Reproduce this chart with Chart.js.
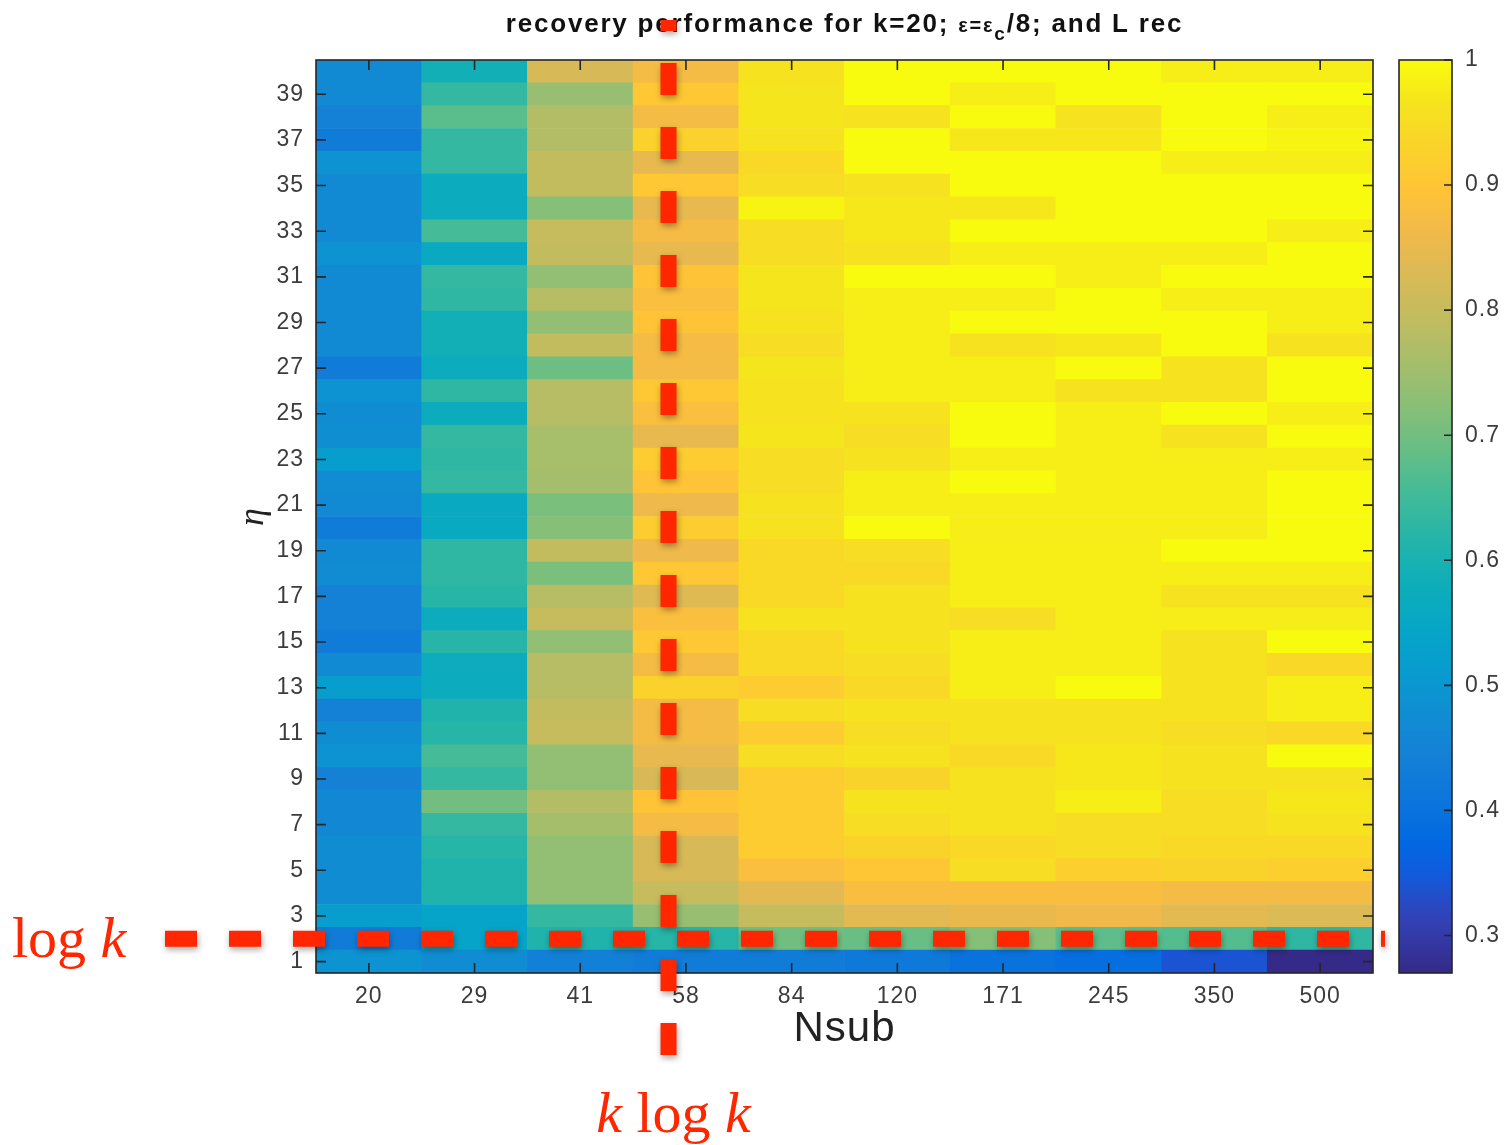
<!DOCTYPE html>
<html>
<head>
<meta charset="utf-8">
<script src="https://cdn.jsdelivr.net/npm/chart.js@4.4.1/dist/chart.umd.min.js"></script>
<style>
  html, body { margin: 0; padding: 0; background: #fff; }
  canvas { display: block; }
</style>
</head>
<body>
<canvas id="heatmap" width="1505" height="1145"></canvas>
<script>
// categories (Nsub) and rows (eta)
const nsub = ['20', '29', '41', '58', '84', '120', '171', '245', '350', '500'];
const eta = [1, 2, 3, 4, 5, 6, 7, 8, 9, 10, 11, 12, 13, 14, 15, 16, 17, 18, 19, 20,
             21, 22, 23, 24, 25, 26, 27, 28, 29, 30, 31, 32, 33, 34, 35, 36, 37, 38, 39, 40];
const etaTicks = [1, 3, 5, 7, 9, 11, 13, 15, 17, 19, 21, 23, 25, 27, 29, 31, 33, 35, 37, 39];
const cbTicks = [0.3, 0.4, 0.5, 0.6, 0.7, 0.8, 0.9, 1];
const cbMin = 0.27;
const cbMax = 1.0;

// recovery performance per Nsub column, eta = 1 .. 40
const rec20  = [0.49, 0.43, 0.52, 0.475, 0.475, 0.475, 0.46, 0.46, 0.445, 0.49,
                0.475, 0.445, 0.52, 0.467, 0.43, 0.445, 0.445, 0.475, 0.467, 0.43,
                0.467, 0.475, 0.52, 0.48, 0.475, 0.49, 0.43, 0.467, 0.467, 0.467,
                0.467, 0.49, 0.467, 0.467, 0.467, 0.49, 0.43, 0.445, 0.467, 0.467];
const rec29  = [0.475, 0.54, 0.54, 0.61, 0.61, 0.62, 0.635, 0.70, 0.635, 0.655,
                0.62, 0.61, 0.57, 0.57, 0.62, 0.57, 0.62, 0.63, 0.63, 0.56,
                0.56, 0.635, 0.63, 0.635, 0.57, 0.63, 0.57, 0.59, 0.59, 0.63,
                0.635, 0.56, 0.655, 0.57, 0.57, 0.635, 0.635, 0.676, 0.635, 0.59];
const rec41  = [0.44, 0.61, 0.635, 0.735, 0.735, 0.735, 0.757, 0.775, 0.735, 0.735,
                0.80, 0.795, 0.78, 0.78, 0.735, 0.80, 0.78, 0.71, 0.795, 0.72,
                0.71, 0.757, 0.76, 0.76, 0.78, 0.78, 0.695, 0.795, 0.735, 0.78,
                0.735, 0.795, 0.80, 0.72, 0.795, 0.795, 0.775, 0.775, 0.74, 0.823];
const rec58  = [0.43, 0.62, 0.74, 0.80, 0.823, 0.823, 0.87, 0.895, 0.823, 0.847,
                0.87, 0.87, 0.927, 0.87, 0.905, 0.883, 0.835, 0.905, 0.858, 0.915,
                0.858, 0.895, 0.915, 0.847, 0.883, 0.905, 0.87, 0.87, 0.895, 0.883,
                0.895, 0.847, 0.87, 0.847, 0.905, 0.847, 0.927, 0.87, 0.905, 0.87];
const rec84  = [0.43, 0.70, 0.80, 0.84, 0.883, 0.915, 0.915, 0.915, 0.915, 0.95,
                0.915, 0.95, 0.915, 0.94, 0.94, 0.96, 0.94, 0.94, 0.94, 0.96,
                0.96, 0.95, 0.95, 0.967, 0.96, 0.96, 0.967, 0.95, 0.96, 0.967,
                0.967, 0.95, 0.95, 0.99, 0.95, 0.94, 0.96, 0.967, 0.967, 0.96];
const rec120 = [0.42, 0.69, 0.84, 0.88, 0.90, 0.93, 0.95, 0.96, 0.93, 0.96,
                0.95, 0.96, 0.94, 0.95, 0.96, 0.96, 0.96, 0.94, 0.95, 1.00,
                0.98, 0.98, 0.96, 0.95, 0.96, 0.98, 0.98, 0.98, 0.98, 0.98,
                1.00, 0.96, 0.97, 0.97, 0.96, 1.00, 1.00, 0.96, 1.00, 1.00];
const rec171 = [0.40, 0.72, 0.85, 0.88, 0.95, 0.94, 0.96, 0.96, 0.96, 0.94,
                0.96, 0.96, 0.98, 0.98, 0.98, 0.95, 0.98, 0.98, 0.98, 0.98,
                0.98, 1.00, 0.98, 1.00, 1.00, 0.98, 0.98, 0.96, 1.00, 0.98,
                1.00, 0.98, 1.00, 0.97, 1.00, 1.00, 0.97, 1.00, 0.98, 1.00];
const rec245 = [0.39, 0.68, 0.86, 0.88, 0.92, 0.95, 0.95, 0.98, 0.97, 0.97,
                0.96, 0.96, 1.00, 0.98, 0.98, 0.98, 0.98, 0.98, 0.98, 0.98,
                0.98, 0.98, 0.98, 0.98, 0.98, 0.96, 1.00, 0.97, 1.00, 1.00,
                0.98, 0.98, 1.00, 1.00, 1.00, 1.00, 0.97, 0.96, 1.00, 1.00];
const rec350 = [0.34, 0.67, 0.84, 0.87, 0.93, 0.94, 0.95, 0.95, 0.96, 0.96,
                0.95, 0.96, 0.96, 0.96, 0.96, 0.98, 0.96, 0.98, 1.00, 0.98,
                0.98, 0.98, 0.98, 0.96, 1.00, 0.96, 0.96, 1.00, 1.00, 0.98,
                1.00, 0.98, 1.00, 1.00, 1.00, 0.98, 1.00, 1.00, 1.00, 0.98];
const rec500 = [0.27, 0.63, 0.83, 0.87, 0.92, 0.94, 0.96, 0.97, 0.96, 1.00,
                0.94, 0.98, 0.98, 0.94, 1.00, 0.98, 0.96, 0.98, 1.00, 1.00,
                1.00, 1.00, 0.98, 1.00, 0.98, 1.00, 1.00, 0.96, 0.98, 0.98,
                1.00, 1.00, 0.98, 1.00, 1.00, 0.98, 0.99, 0.98, 1.00, 0.98];

// annotation positions (eta value, category index)
const logKEta = 2;
const kLogKPos = 2.835;

const columns = [rec20, rec29, rec41, rec58, rec84, rec120, rec171, rec245, rec350, rec500];

// parula colour table
const parulaStops = [
  [0.000, 53, 42, 135], [0.063, 50, 67, 186], [0.111, 15, 92, 221],
  [0.143, 2, 104, 225], [0.190, 13, 117, 220], [0.238, 20, 129, 214],
  [0.286, 16, 142, 210], [0.333, 7, 156, 207], [0.381, 6, 167, 198],
  [0.429, 15, 174, 185], [0.476, 37, 181, 169], [0.524, 66, 187, 152],
  [0.571, 101, 190, 134], [0.619, 135, 191, 119], [0.667, 165, 190, 107],
  [0.714, 192, 188, 96], [0.762, 217, 186, 86], [0.810, 241, 185, 74],
  [0.857, 255, 195, 55], [0.905, 250, 211, 42], [0.952, 245, 228, 29],
  [1.000, 249, 251, 14]
];

function parula(v) {
  let t = (v - cbMin) / (cbMax - cbMin);
  t = Math.min(1, Math.max(0, t));
  for (let i = 0; i < parulaStops.length - 1; i++) {
    const a = parulaStops[i], b = parulaStops[i + 1];
    if (t <= b[0]) {
      const f = (t - a[0]) / (b[0] - a[0]);
      const c = [1, 2, 3].map(k => Math.round(a[k] + (b[k] - a[k]) * f));
      return `rgb(${c[0]},${c[1]},${c[2]})`;
    }
  }
  return 'rgb(249,251,14)';
}

// one floating-bar dataset per eta row
const datasets = eta.map((e, i) => ({
  data: nsub.map(() => [e - 0.5, e + 0.5]),
  backgroundColor: columns.map(col => parula(col[i])),
  borderWidth: 0,
  grouped: false,
  barPercentage: 1,
  categoryPercentage: 1,
  yAxisID: 'y'
}));

const sans = '"Liberation Sans", Arial, sans-serif';
const tickFont = { family: sans, size: 23 };
const tickColor = '#3c3c3c';
const red = 'rgb(255,38,0)';

const spacing = {
  id: 'spacing',
  beforeLayout(chart) { chart.ctx.letterSpacing = '1px'; },
  beforeDraw(chart) { chart.ctx.letterSpacing = '1px'; }
};

const overlay = {
  id: 'overlay',
  afterDraw(chart) {
    const { ctx, chartArea: a, scales } = chart;
    const xs = scales.x, ys = scales.y, cb = scales.cb;
    ctx.save();

    // box with inward ticks
    ctx.strokeStyle = '#262626';
    ctx.lineWidth = 1.6;
    ctx.strokeRect(a.left, a.top, a.right - a.left, a.bottom - a.top);
    ctx.beginPath();
    ys.ticks.forEach(t => {
      const y = ys.getPixelForValue(t.value);
      ctx.moveTo(a.left, y); ctx.lineTo(a.left + 10, y);
      ctx.moveTo(a.right, y); ctx.lineTo(a.right - 10, y);
    });
    xs.ticks.forEach((t, i) => {
      const x = xs.getPixelForTick(i);
      ctx.moveTo(x, a.bottom); ctx.lineTo(x, a.bottom - 10);
      ctx.moveTo(x, a.top); ctx.lineTo(x, a.top + 10);
    });
    ctx.stroke();

    // colour bar
    const cbL = cb.left + 26, cbR = cb.left + 79;
    const grad = ctx.createLinearGradient(0, cb.getPixelForValue(cbMin), 0, cb.getPixelForValue(cbMax));
    parulaStops.forEach(s => grad.addColorStop(s[0], `rgb(${s[1]},${s[2]},${s[3]})`));
    ctx.fillStyle = grad;
    ctx.fillRect(cbL, cb.top, cbR - cbL, cb.bottom - cb.top);
    ctx.strokeRect(cbL, cb.top, cbR - cbL, cb.bottom - cb.top);
    ctx.beginPath();
    cb.ticks.forEach(t => {
      const y = cb.getPixelForValue(t.value);
      ctx.moveTo(cbR, y); ctx.lineTo(cbR - 8, y);
    });
    ctx.stroke();
    ctx.fillStyle = tickColor;
    ctx.font = `23px ${sans}`;
    ctx.textAlign = 'left';
    ctx.textBaseline = 'middle';
    cb.ticks.forEach(t => {
      const label = t.value === 1 ? '1' : t.value.toFixed(1);
      ctx.fillText(label, cb.left + 92, cb.getPixelForValue(t.value));
    });

    // title with subscript
    ctx.letterSpacing = '1.8px';
    const parts = [
      { text: 'recovery performance for k=20; ', font: `bold 26px ${sans}`, dy: 0 },
      { text: 'ε=ε', font: `bold 20px ${sans}`, dy: 0 },
      { text: 'c', font: `bold 19px ${sans}`, dy: 8 },
      { text: '/8; and L rec', font: `bold 26px ${sans}`, dy: 0 }
    ];
    let total = 0;
    parts.forEach(p => { ctx.font = p.font; p.w = ctx.measureText(p.text).width; total += p.w; });
    let tx = (a.left + a.right) / 2 - total / 2;
    ctx.fillStyle = '#111';
    ctx.textBaseline = 'alphabetic';
    parts.forEach(p => { ctx.font = p.font; ctx.fillText(p.text, tx, 32 + p.dy); tx += p.w; });
    ctx.letterSpacing = '0px';

    // red dashed guide lines
    const hy = ys.getPixelForValue(logKEta);
    const vx = xs.getPixelForValue(kLogKPos);
    ctx.strokeStyle = red;
    ctx.lineWidth = 16;
    ctx.setLineDash([32, 32]);
    ctx.shadowColor = 'rgba(0,0,0,0.35)';
    ctx.shadowBlur = 6;
    ctx.shadowOffsetX = 1;
    ctx.shadowOffsetY = 3;
    ctx.beginPath();
    ctx.moveTo(a.left - 151, hy);
    ctx.lineTo(a.right + 12, hy);
    ctx.stroke();
    ctx.lineDashOffset = 21;
    ctx.beginPath();
    ctx.moveTo(vx, a.top - 40);
    ctx.lineTo(vx, a.bottom + 82);
    ctx.stroke();
    ctx.setLineDash([]);
    ctx.lineDashOffset = 0;
    ctx.shadowColor = 'transparent';

    // red labels
    const serif = '"Liberation Serif", "Times New Roman", serif';
    ctx.fillStyle = red;
    ctx.font = `58px ${serif}`;
    ctx.fillText('log', 12, hy + 18);
    const lw = ctx.measureText('log ').width;
    ctx.font = `italic 58px ${serif}`;
    ctx.fillText('k', 12 + lw, hy + 18);

    ctx.font = `italic 58px ${serif}`;
    const wk = ctx.measureText('k').width;
    ctx.font = `58px ${serif}`;
    const wl = ctx.measureText(' log ').width;
    let kx = vx + 5 - (wk * 2 + wl) / 2;
    const ky = a.bottom + 159;
    ctx.font = `italic 58px ${serif}`;
    ctx.fillText('k', kx, ky); kx += wk;
    ctx.font = `58px ${serif}`;
    ctx.fillText(' log ', kx, ky); kx += wl;
    ctx.font = `italic 58px ${serif}`;
    ctx.fillText('k', kx, ky);

    ctx.restore();
  }
};

new Chart(document.getElementById('heatmap'), {
  type: 'bar',
  data: { labels: nsub, datasets: datasets },
  options: {
    responsive: false,
    animation: false,
    events: [],
    layout: { padding: { left: 232, top: 60, right: 0, bottom: 90 } },
    plugins: {
      legend: { display: false },
      tooltip: { enabled: false },
      title: { display: false }
    },
    scales: {
      x: {
        type: 'category',
        offset: true,
        grid: { display: false, drawTicks: false },
        border: { display: false },
        ticks: { font: tickFont, color: tickColor, padding: 10, maxRotation: 0, autoSkip: false },
        title: {
          display: true, text: 'Nsub', color: '#222',
          font: { family: sans, size: 42 },
          padding: { top: 0, bottom: 0 }
        },
        afterFit: s => { s.height = 82; }
      },
      y: {
        type: 'linear',
        position: 'left',
        min: 0.5,
        max: 40.5,
        grid: { display: false, drawTicks: false },
        border: { display: false },
        afterBuildTicks: s => { s.ticks = etaTicks.map(v => ({ value: v })); },
        ticks: { font: tickFont, color: tickColor, padding: 12 },
        title: {
          display: true, text: 'η', color: '#222',
          font: { family: '"Liberation Serif", serif', size: 36, style: 'italic' },
          padding: { top: 0, bottom: 0 }
        },
        afterFit: s => { s.width = 84; }
      },
      cb: {
        type: 'linear',
        position: 'right',
        min: cbMin,
        max: cbMax,
        grid: { display: false, drawTicks: false },
        border: { display: false },
        afterBuildTicks: s => { s.ticks = cbTicks.map(v => ({ value: v })); },
        ticks: { display: false, padding: 0 },
        afterFit: s => { s.width = 132; }
      }
    }
  },
  plugins: [spacing, overlay]
});
</script>
</body>
</html>
